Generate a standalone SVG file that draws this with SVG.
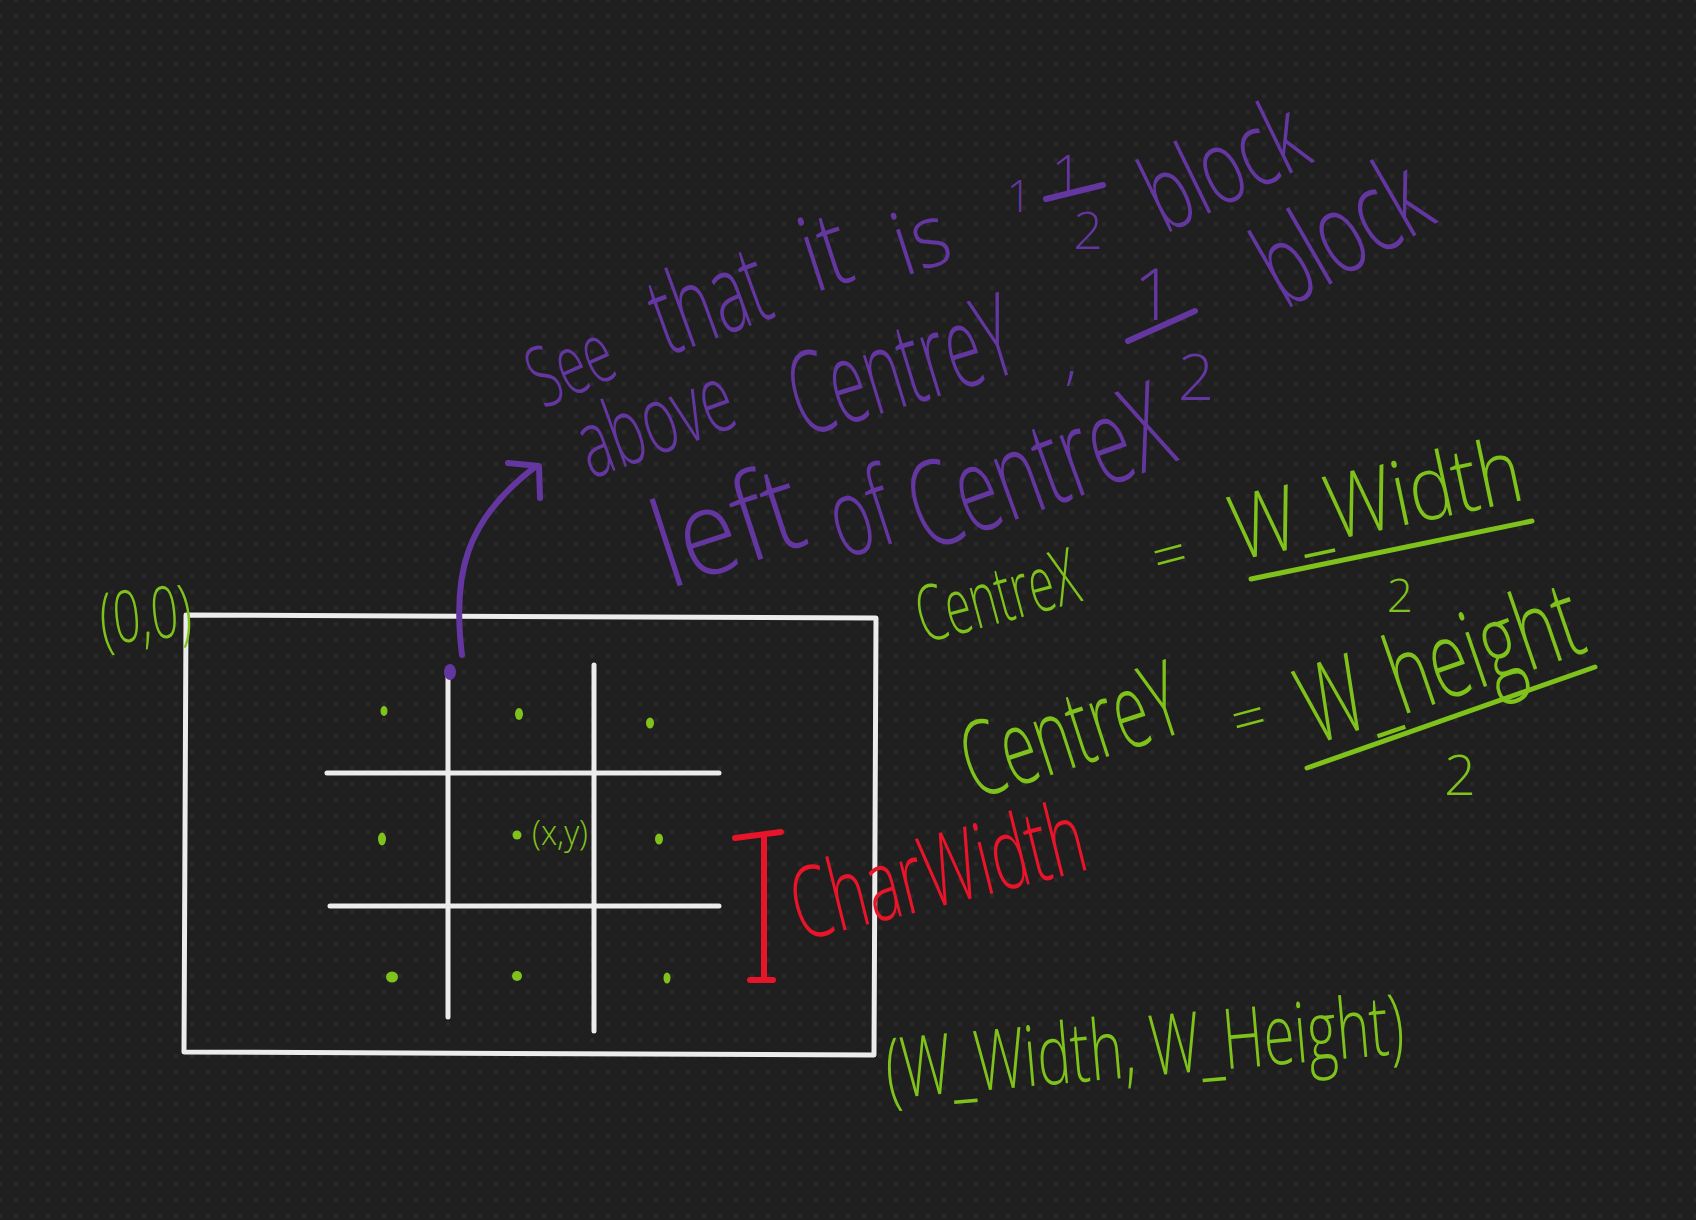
<svg xmlns="http://www.w3.org/2000/svg" width="1696" height="1220" viewBox="0 0 1696 1220">
<defs>
<pattern id="dots" width="16" height="16" patternUnits="userSpaceOnUse">
<circle cx="0" cy="0" r="2.2" fill="#292929"/>
<circle cx="16" cy="0" r="2.2" fill="#292929"/>
<circle cx="0" cy="16" r="2.2" fill="#292929"/>
<circle cx="16" cy="16" r="2.2" fill="#292929"/>
</pattern>
<style>
.hw{font-family:"Open Sans","Liberation Sans",sans-serif;font-weight:300;}
.pu{fill:#6437a0;}
.gr{fill:#7fc21b;}
.rd{fill:#e8142a;}
.wl{stroke:#ececec;stroke-width:5;fill:none;stroke-linecap:round;stroke-linejoin:round;}
.pl{stroke:#6437a0;stroke-width:6;fill:none;stroke-linecap:round;stroke-linejoin:round;}
.gl{stroke:#7fc21b;stroke-width:5;fill:none;stroke-linecap:round;}
.rl{stroke:#e8142a;stroke-width:6;fill:none;stroke-linecap:round;}
.dot{fill:#7fc21b;}
</style>
</defs>
<rect width="1696" height="1220" fill="#1f1f1f"/>
<rect width="1696" height="1220" fill="url(#dots)"/>

<g id="window">
<path class="wl" d="M186,615 L876,618 L874,1055 L184,1052 Z"/>
</g>
<g id="grid">
<path class="wl" d="M448,670 L448,1017 M594,665 L594,1031 M327,773 L719,773 M330,906 L719,906"/>
</g>
<g id="cells">
<ellipse class="dot" cx="384" cy="711" rx="3.5" ry="5"/>
<ellipse class="dot" cx="519" cy="714" rx="4" ry="6"/>
<ellipse class="dot" cx="650" cy="723" rx="4" ry="5.5"/>
<ellipse class="dot" cx="382" cy="839" rx="4" ry="6.5"/>
<ellipse class="dot" cx="517" cy="835" rx="4.5" ry="4.5"/>
<ellipse class="dot" cx="659" cy="839" rx="4" ry="5.5"/>
<ellipse class="dot" cx="392" cy="977" rx="6" ry="5.5"/>
<ellipse class="dot" cx="517" cy="976" rx="5" ry="5"/>
<ellipse class="dot" cx="667" cy="978" rx="3.5" ry="5.5"/>
<text class="hw gr" x="560" y="845" font-size="34" text-anchor="middle" textLength="56" lengthAdjust="spacingAndGlyphs">(x,y)</text>
</g>
<g id="origin-label">
<text class="hw gr" x="146" y="640" font-size="72" text-anchor="middle" textLength="92" lengthAdjust="spacingAndGlyphs" transform="rotate(-6 146 620)">(0,0)</text>
</g>
<g id="corner-label">
<text class="hw gr" transform="translate(1147,1076) rotate(-5)" font-size="84" text-anchor="middle" textLength="520" lengthAdjust="spacingAndGlyphs">(W_Width, W_Height)</text>
</g>
<g id="charwidth">
<path class="rl" d="M764,835 L764,980 M735,838 L781,832 M750,980 L773,980"/>
<text class="hw rd" transform="translate(946,905) rotate(-14)" font-size="100" text-anchor="middle" textLength="300" lengthAdjust="spacingAndGlyphs">CharWidth</text>
</g>
<g id="note">
<text class="hw pu" transform="translate(582,392) rotate(-24)" font-size="85" text-anchor="middle" textLength="85" lengthAdjust="spacingAndGlyphs">See</text>
<text class="hw pu" transform="translate(722,336) rotate(-20)" font-size="110" text-anchor="middle" textLength="118" lengthAdjust="spacingAndGlyphs">that</text>
<text class="hw pu" transform="translate(836,286) rotate(-18)" font-size="105" text-anchor="middle" textLength="46" lengthAdjust="spacingAndGlyphs">it</text>
<text class="hw pu" transform="translate(930,268) rotate(-18)" font-size="88" text-anchor="middle" textLength="55" lengthAdjust="spacingAndGlyphs">is</text>
<text class="hw pu" x="1019" y="212" font-size="44" text-anchor="middle">1</text>
<text class="hw pu" x="1067" y="195" font-size="56" text-anchor="middle">1</text>
<path class="pl" d="M1046,199 L1103,185"/>
<text class="hw pu" x="1088" y="249" font-size="52" text-anchor="middle">2</text>
<text class="hw pu" transform="translate(1240,198) rotate(-26)" font-size="105" text-anchor="middle" textLength="168" lengthAdjust="spacingAndGlyphs">block</text>
<text class="hw pu" transform="translate(666,452) rotate(-20)" font-size="95" text-anchor="middle" textLength="160" lengthAdjust="spacingAndGlyphs">above</text>
<text class="hw pu" transform="translate(913,404) rotate(-17)" font-size="115" text-anchor="middle" textLength="230" lengthAdjust="spacingAndGlyphs">CentreY</text>
<text class="hw pu" x="1071" y="378" font-size="60" text-anchor="middle">,</text>
<text class="hw pu" x="1154" y="320" font-size="72" text-anchor="middle">1</text>
<path class="pl" d="M1128,341 L1195,311"/>
<text class="hw pu" x="1196" y="400" font-size="64" text-anchor="middle">2</text>
<text class="hw pu" transform="translate(1362,266) rotate(-30)" font-size="115" text-anchor="middle" textLength="178" lengthAdjust="spacingAndGlyphs">block</text>
<text class="hw pu" transform="translate(740,566) rotate(-18)" font-size="120" text-anchor="middle" textLength="150" lengthAdjust="spacingAndGlyphs">left</text>
<text class="hw pu" transform="translate(872,550) rotate(-18)" font-size="110" text-anchor="middle" textLength="62" lengthAdjust="spacingAndGlyphs">of</text>
<text class="hw pu" transform="translate(1053,506) rotate(-20)" font-size="120" text-anchor="middle" textLength="270" lengthAdjust="spacingAndGlyphs">CentreX</text>
</g>
<g id="formula-x">
<text class="hw gr" transform="translate(1004,622) rotate(-15)" font-size="78" text-anchor="middle" textLength="165" lengthAdjust="spacingAndGlyphs">CentreX</text>
<text class="hw gr" transform="translate(1175,575) rotate(-15)" font-size="60" text-anchor="middle">=</text>
<text class="hw gr" transform="translate(1382,530) rotate(-12)" font-size="90" text-anchor="middle" textLength="296" lengthAdjust="spacingAndGlyphs">W_Width</text>
<path class="gl" d="M1251,579 L1532,521"/>
<text class="hw gr" x="1400" y="612" font-size="46" text-anchor="middle">2</text>
</g>
<g id="formula-y">
<text class="hw gr" transform="translate(1082,765) rotate(-18)" font-size="105" text-anchor="middle" textLength="225" lengthAdjust="spacingAndGlyphs">CentreY</text>
<text class="hw gr" transform="translate(1254,738) rotate(-15)" font-size="60" text-anchor="middle">=</text>
<text class="hw gr" transform="translate(1452,698) rotate(-19)" font-size="108" text-anchor="middle" textLength="292" lengthAdjust="spacingAndGlyphs">W_height</text>
<path class="gl" d="M1307,768 L1595,667"/>
<text class="hw gr" x="1460" y="795" font-size="56" text-anchor="middle">2</text>
</g>
<g id="connectors">
<ellipse cx="450" cy="672" rx="6" ry="8" fill="#6437a0"/>
<path class="pl" d="M462,655 C452,575 465,520 535,467"/>
<path class="pl" d="M508,463 L539,466 L540,498"/>
</g>
</svg>
